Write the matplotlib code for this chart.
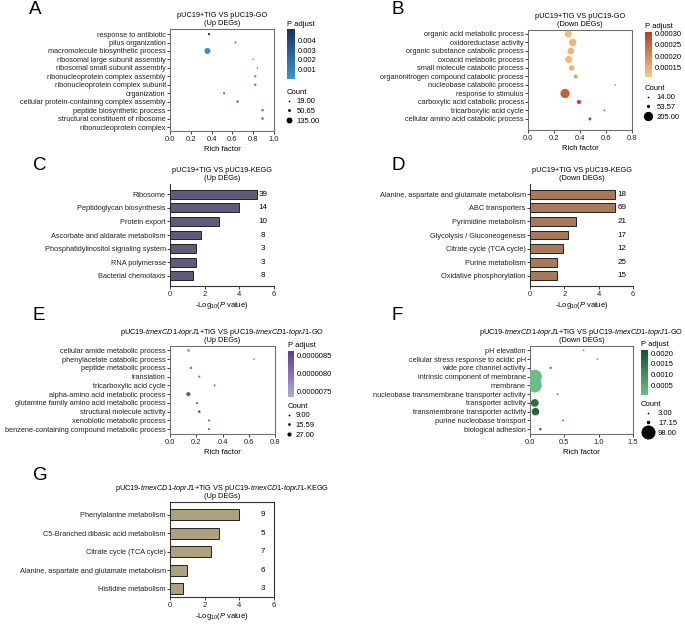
import numpy as np
import matplotlib
matplotlib.use("Agg")
import matplotlib.pyplot as plt
from matplotlib.colors import LinearSegmentedColormap, Normalize
from matplotlib.cm import ScalarMappable
from matplotlib.lines import Line2D

plt.rcParams['font.family'] = ['Liberation Sans', 'DejaVu Sans']
plt.rcParams['mathtext.fontset'] = 'custom'
plt.rcParams['mathtext.rm'] = 'Liberation Sans'
plt.rcParams['mathtext.it'] = 'Liberation Sans:italic'

W, H = 685, 626

# ---- A: GO up ----
a_terms = ["response to antibiotic", "pilus organization", "macromolecule biosynthetic process",
           "ribosomal large subunit assembly", "ribosomal small subunit assembly",
           "ribonucleoprotein complex assembly", "ribonucleoprotein complex subunit", "organization",
           "cellular protein-containing complex assembly", "peptide biosynthetic process",
           "structural constituent of ribosome", "ribonucleoprotein complex"]
a_rich = [0.375, 0.63, 0.36, 0.80, 0.84, 0.82, 0.82, 0.52, 0.65, 0.89, 0.89]
a_count = [37, 28, 135, 19, 19, 37, 37, 37, 46, 46, 46]
a_padj = [0.0050, 0.0008, 0.0006, 0.0002, 0.0001, 0.0003, 0.0003, 0.0004, 0.0005, 0.0002, 0.0002]

# ---- B: GO down ----
b_terms = ["organic acid metabolic process", "oxidoreductase activity", "organic substance catabolic process",
           "oxoacid metabolic process", "small molecule catabolic process",
           "organonitrogen compound catabolic process", "nucleobase catabolic process", "response to stimulus",
           "carboxylic acid catabolic process", "tricarboxylic acid cycle", "cellular amino acid catabolic process"]
b_rich = [0.31, 0.344, 0.329, 0.313, 0.336, 0.367, 0.67, 0.285, 0.392, 0.588, 0.476]
b_count = [150, 160, 140, 150, 105, 78, 14, 205, 78, 18, 45]
b_padj = [0.00013, 0.00014, 0.00014, 0.00013, 0.00015, 0.00016, 0.00021, 0.00026, 0.00029, 0.00027, 0.00030]

# ---- C: KEGG up ----
c_terms = ["Ribosome", "Peptidoglycan biosynthesis", "Protein export", "Ascorbate and aldarate metabolism",
           "Phosphatidylinositol signaling system", "RNA polymerase", "Bacterial chemotaxis"]
c_logp = [5.0, 4.0, 2.83, 1.76, 1.48, 1.48, 1.32]
c_count = [39, 14, 10, 8, 3, 3, 8]

# ---- D: KEGG down ----
d_terms = ["Alanine, aspartate and glutamate metabolism", "ABC transporters", "Pyrimidine metabolism",
           "Glycolysis / Gluconeogenesis", "Citrate cycle (TCA cycle)", "Purine metabolism",
           "Oxidative phosphorylation"]
d_logp = [4.95, 4.95, 2.67, 2.24, 1.95, 1.57, 1.58]
d_count = [18, 69, 21, 17, 12, 25, 15]

# ---- E: GO up (tmexCD1-toprJ1) ----
e_terms = ["cellular amide metabolic process", "phenylacetate catabolic process", "peptide metabolic process",
           "translation", "tricarboxylic acid cycle", "alpha-amino acid metabolic process",
           "glutamine family amino acid metabolic process", "structural molecule activity",
           "xenobiotic metabolic process", "benzene-containing compound metabolic process"]
e_rich = [0.142, 0.64, 0.16, 0.223, 0.34, 0.14, 0.206, 0.223, 0.297, 0.297]
e_count = [19, 9, 15, 12, 10, 27, 12, 15, 10, 10]
e_padj = [7.5e-6, 7.6e-6, 7.9e-6, 8.0e-6, 8.2e-6, 8.4e-6, 8.2e-6, 8.5e-6, 8.4e-6, 8.5e-6]

# ---- F: GO down (tmexCD1-toprJ1) ----
f_terms = ["pH elevation", "cellular stress response to acidic pH", "wide pore channel activity",
           "intrinsic component of membrane", "membrane", "nucleobase transmembrane transporter activity",
           "transporter activity", "transmembrane transporter activity", "purine nucleobase transport",
           "biological adhesion"]
f_rich = [0.78, 0.98, 0.30, 0.07, 0.07, 0.40, 0.07, 0.08, 0.48, 0.15]
f_count = [4, 3, 10, 98, 98, 4, 50, 48, 3, 8]
f_padj = [0.0005, 0.0007, 0.0006, 0.0001, 0.0001, 0.0012, 0.0016, 0.0018, 0.0017, 0.0021]

# ---- G: KEGG up (tmexCD1-toprJ1) ----
g_terms = ["Phenylalanine metabolism", "C5-Branched dibasic acid metabolism", "Citrate cycle (TCA cycle)",
           "Alanine, aspartate and glutamate metabolism", "Histidine metabolism"]
g_logp = [4.0, 2.85, 2.35, 0.96, 0.73]
g_count = [9, 5, 7, 6, 3]

TM = r"pUC19-$\mathit{tmexCD1}$-$\mathit{toprJ1}$+TIG VS pUC19-$\mathit{tmexCD1}$-$\mathit{toprJ1}$"
LOGP = r"-Log$_{10}$($\mathit{P}$ value)"

FS_LAB = 5.35  # category labels
FS_TXT = 5.5   # other small text
FS_TTL = 5.3

fig = plt.figure(figsize=(W / 100, H / 100), dpi=100)


def frac(l, t, r, b):
    return [l / W, 1 - b / H, (r - l) / W, (b - t) / H]


def style_ticks(ax):
    ax.tick_params(axis='both', labelsize=FS_LAB, length=2, width=0.6, pad=1, colors='#222222')
    ax.tick_params(axis='x', labelsize=FS_TXT, pad=1.5)


def two_line_title(ax, line1, line2):
    # second line sits just above the axes, first line one row higher
    ax.set_title(line2, fontsize=FS_TTL, pad=3)
    ax.annotate(line1, xy=(0.5, 1), xycoords='axes fraction', xytext=(0, 3 + FS_TTL * 1.12),
                textcoords='offset points', ha='center', va='baseline', fontsize=FS_TTL)


def dot_panel(box, terms, rich, padj, count, c_lo, c_hi, vrange, xlim, xticks, drange, title,
              ylim, cbar_box, cticks, cfmt, leg_x, leg_y, hl):
    ax = fig.add_axes(frac(*box))
    cmin, cmax = min(count), max(count)
    dmin, dmax = drange

    def diam(c):
        return dmin + (np.asarray(c, float) - cmin) / (cmax - cmin) * (dmax - dmin)

    cmap = LinearSegmentedColormap.from_list("pc", [c_lo, c_hi])
    norm = Normalize(*vrange)
    ax.scatter(rich, np.arange(len(rich)), s=diam(count) ** 2, c=padj, cmap=cmap, norm=norm,
               linewidths=0, zorder=3)
    ax.set_yticks(np.arange(len(terms)))
    ax.set_yticklabels(terms)
    ax.set_ylim(*ylim)
    ax.set_xlim(*xlim)
    ax.set_xticks(xticks)
    ax.set_xticklabels(["%.1f" % v for v in xticks])
    for s in ax.spines.values():
        s.set_color('#707070')
        s.set_linewidth(0.8)
    style_ticks(ax)
    ax.set_xlabel("Rich factor", fontsize=FS_TXT, labelpad=2)
    two_line_title(ax, *title)

    cax = fig.add_axes(frac(*cbar_box))
    cb = fig.colorbar(ScalarMappable(norm=norm, cmap=cmap), cax=cax)
    cb.set_ticks(cticks)
    cb.ax.set_yticklabels([cfmt % t for t in cticks])
    cb.outline.set_visible(False)
    cb.ax.tick_params(length=0, labelsize=FS_TXT, pad=2)
    fig.text(cbar_box[0] / W, 1 - (cbar_box[1] - 1.5) / H, "P adjust", fontsize=FS_TXT, va='bottom')

    leg_vals = [cmin, np.sqrt(cmin * cmax), cmax]
    handles = [Line2D([], [], ls='none', marker='o', color='black', markeredgewidth=0,
                      markersize=float(diam(v))) for v in leg_vals]
    fig.text(cbar_box[0] / W, 1 - leg_y / H, "Count", fontsize=FS_TXT, va='center')
    fig.legend(handles, ["%.2f" % v for v in leg_vals], loc='upper left',
               bbox_to_anchor=(leg_x / W, 1 - (leg_y + 6) / H), frameon=False, fontsize=FS_TXT,
               handlelength=hl, handletextpad=0.5, labelspacing=0.3, borderpad=0, borderaxespad=0)
    return ax


def bar_panel(box, terms, logp, count, color, title, ylim, height, full_frame):
    ax = fig.add_axes(frac(*box))
    y = np.arange(len(terms))
    ax.barh(y, logp, height=height, color=color, edgecolor='#222222', linewidth=0.7, zorder=3)
    for yi, n in zip(y, count):
        ax.text(5.35, yi, str(n), fontsize=5.8, ha='center', va='center')
    ax.set_yticks(y)
    ax.set_yticklabels(terms)
    ax.set_ylim(*ylim)
    ax.set_xlim(0, 6)
    ax.set_xticks([0, 2, 4, 6])
    if not full_frame:
        ax.spines['top'].set_visible(False)
        ax.spines['right'].set_visible(False)
    for s in ax.spines.values():
        s.set_color('#333333')
        s.set_linewidth(0.8)
    style_ticks(ax)
    ax.set_xlabel(LOGP, fontsize=FS_TXT, labelpad=1.5)
    two_line_title(ax, *title)
    return ax


dot_panel((170, 29, 274, 131), a_terms, a_rich, a_padj, a_count, '#3d95d8', '#17325f',
          (0.0, 0.0052), (0, 1.0), [0, 0.2, 0.4, 0.6, 0.8, 1.0], (1.2, 4.3),
          ("pUC19+TIG VS pUC19-GO", "(Up DEGs)"), (11.47, -0.6),
          (287, 29, 295, 79), [0.001, 0.002, 0.003, 0.004], "%.3f", 285.5, 92, 1.0)

dot_panel((528, 30, 632, 130), b_terms, b_rich, b_padj, b_count, '#f9c988', '#b13f27',
          (0.00011, 0.000305), (0, 0.8), [0, 0.2, 0.4, 0.6, 0.8], (1.2, 6.7),
          ("pUC19+TIG VS pUC19-GO", "(Down DEGs)"), (11.3, -0.47),
          (645, 32, 652, 77), [0.00015, 0.0002, 0.00025, 0.0003], "%.5f", 643, 88, 1.3)

bar_panel((170, 184, 274, 286), c_terms, c_logp, c_count, '#5f5b7b',
          ("pUC19+TIG VS pUC19-KEGG", "(Up DEGs)"), (6.74, -0.74), 0.65, False)

bar_panel((530, 184, 633, 286), d_terms, d_logp, d_count, '#a8785a',
          ("pUC19+TIG VS pUC19-KEGG", "(Down DEGs)"), (6.74, -0.74), 0.65, False)

dot_panel((170, 346, 275, 434), e_terms, e_rich, e_padj, e_count, '#b3a7d9', '#5a3c98',
          (7.36e-6, 8.63e-6), (0, 0.8), [0, 0.2, 0.4, 0.6, 0.8], (1.3, 3.0),
          (TM + "-GO", "(Up DEGs)"), (9.55, -0.5),
          (288, 351, 294, 397), [7.5e-6, 8.0e-6, 8.5e-6], "%.7f", 285.5, 406, 0.8)

dot_panel((530, 346, 633, 434), f_terms, f_rich, f_padj, f_count, '#6cbe87', '#1a5030',
          (0.00006, 0.00215), (0, 1.5), [0, 0.5, 1.0, 1.5], (1.2, 10.1),
          (TM + "-GO", "(Down DEGs)"), (9.55, -0.5),
          (641, 350, 648, 395), [0.0005, 0.001, 0.0015, 0.002], "%.4f", 642, 404, 1.6)

bar_panel((170, 502, 274, 597), g_terms, g_logp, g_count, '#aca07e',
          (TM + "-KEGG", "(Up DEGs)"), (4.46, -0.69), 0.6, True)

for letter, x, y in [("A", 29, 9), ("B", 392, 9), ("C", 33, 166), ("D", 392, 165),
                     ("E", 33, 315), ("F", 392, 316), ("G", 33, 475)]:
    fig.text(x / W, 1 - y / H, letter, fontsize=13.5, va='center', ha='left')

fig.savefig("out.png", dpi=100)
